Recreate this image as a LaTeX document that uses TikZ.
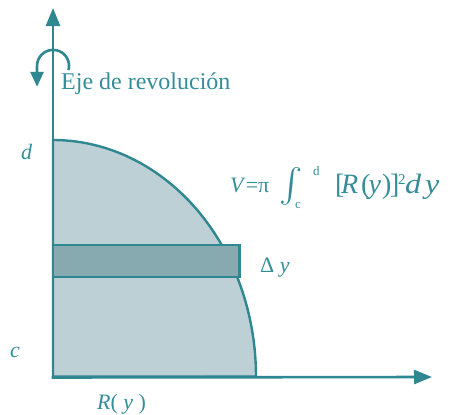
\documentclass[tikz,border=0pt]{standalone}
\usepackage{fontspec}
\setmainfont{Liberation Serif}
\usetikzlibrary{arrows.meta}
\definecolor{tealline}{HTML}{2E8791}
\definecolor{tealtext}{HTML}{348D97}
\definecolor{lightfill}{HTML}{BDD0D6}
\definecolor{darkfill}{HTML}{87A9B0}
\tikzset{
  axisline/.style={draw=tealline, line width=2.6pt, -{Triangle[length=18pt,width=14pt]}},
  lbl/.style={text=tealtext, inner sep=0pt, anchor=base west},
  regionstyle/.style={fill=lightfill, draw=tealline, line width=2.4pt, line join=round},
  stripstyle/.style={fill=darkfill, draw=tealline, line width=2.4pt},
  big/.style={font=\fontsize{28}{32}\selectfont},
  bigit/.style={font=\fontsize{28}{32}\selectfont\itshape},
}
\begin{document}
\begin{tikzpicture}[x=1pt,y=-1pt]
\useasboundingbox (0,0) rectangle (453,415);
% named coordinates
\coordinate (O) at (53,377);
\coordinate (Ytop) at (53,8);
\coordinate (Xend) at (432,377);
% region
\path[regionstyle] (53,376.5) -- plot[domain=90:0, samples=80, variable=\t]
  ({53+203*cos(\t)},{376.5-236.5*sin(\t)}) -- cycle;
% strip
\path[stripstyle] (53,245) rectangle (239.5,277);
% axes
\draw[axisline] (O) -- (Ytop);
\draw[axisline] (51.7,377.5) -- (Xend);
% revolution arrow
\coordinate (RevStart) at (68.5,70);
\draw[draw=tealline, line width=2.6pt, -{Triangle[length=15pt,width=13pt]}]
  (RevStart) arc[start angle=15, end angle=-180, radius=16] -- ++(0,21);
% labels
\node[lbl, font=\fontsize{24}{28}\selectfont] (eje) at (61,89) {Eje de revolución};
\node[lbl, font=\fontsize{22}{26}\selectfont\itshape] (dlab) at (21,159) {d};
\node[lbl, font=\fontsize{22}{26}\selectfont\itshape] (clab) at (10,357) {c};
\node[lbl, font=\fontsize{22}{26}\selectfont] (rlab) at (97,409) {\textit{R}( \textit{y} )};
\node[lbl, font=\fontsize{22}{26}\selectfont] (dylab) at (260,272) {Δ \textit{y}};
% formula
\node[lbl, font=\fontsize{22}{26}\selectfont] (fV) at (230,192) {\textit{V}=π};
\node[inner sep=0pt, anchor=center, text=tealtext] (fint) at (291.5,186) {\scalebox{3.5}[3.4]{\boldmath$\int$}};
\node[lbl, font=\fontsize{13}{15}\selectfont] (fd) at (313,175) {d};
\node[lbl, font=\fontsize{13}{15}\selectfont] (fc) at (295,208) {c};
\node[lbl, big] (fb1) at (335,193) {[};
\node[lbl, bigit] (fR) at (341,193) {R};
\node[lbl, big] (fp1) at (361,193) {(};
\node[lbl, bigit] (fy) at (368.5,193) {y};
\node[lbl, big] (fp2) at (382,193) {)};
\node[lbl, big] (fb2) at (390,193) {]};
\node[lbl, font=\fontsize{15}{18}\selectfont] (f2) at (398,184) {2};
\node[lbl, font=\fontsize{28}{32}\selectfont\itshape] (fdd) at (405,193) {\scalebox{1.15}[1]{d}};
\node[lbl, font=\fontsize{28}{32}\selectfont\itshape] (fyy) at (425,193) {\scalebox{1.15}[1]{y}};
\end{tikzpicture}
\end{document}
